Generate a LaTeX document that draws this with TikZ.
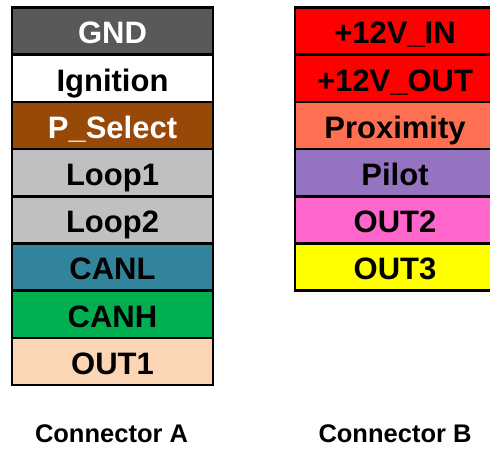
\documentclass[tikz,border=0pt]{standalone}
\usepackage{fontspec}
\setmainfont{Liberation Sans}
\definecolor{cGND}{HTML}{595959}
\definecolor{cPSel}{HTML}{984807}
\definecolor{cLoop}{HTML}{C0C0C0}
\definecolor{cCANL}{HTML}{31849B}
\definecolor{cCANH}{HTML}{00B050}
\definecolor{cOUTa}{HTML}{FCD5B5}
\definecolor{cRed}{HTML}{FF0000}
\definecolor{cProx}{HTML}{FF7053}
\definecolor{cPilot}{HTML}{9473C0}
\definecolor{cOUTb}{HTML}{FF66CC}
\definecolor{cOUTc}{HTML}{FFFF00}
\begin{document}
\begin{tikzpicture}[x=1pt,y=-1pt,
  cell/.style={draw=black,line width=2.5pt},
  lbl/.style={anchor=base,inner sep=0pt,font=\fontsize{31}{31}\selectfont\bfseries},
  conncap/.style={anchor=base,inner sep=0pt,font=\fontsize{25.5}{25.5}\selectfont\bfseries}]
\useasboundingbox (0,0) rectangle (490,449);
\clip (0,0) rectangle (490,449);
\def\rh{47.2}
% Connector A
\foreach \i/\c/\t/\tc/\nm in {0/cGND/GND/white/a1,1/white/Ignition/black/a2,2/cPSel/P\_Select/white/a3,3/cLoop/Loop1/black/a4,4/cLoop/Loop2/black/a5,5/cCANL/CANL/black/a6,6/cCANH/CANH/black/a7,7/cOUTa/OUT1/black/a8}{
  \path[cell,fill=\c] (12,7.5+\i*\rh) rectangle (213,7.5+\i*\rh+\rh);
  \node[lbl,text=\tc] (\nm) at (112.5,44+\i*\rh) {\t};
}
% Connector B
\foreach \i/\c/\t/\nm in {0/cRed/+12V\_IN/b1,1/cRed/+12V\_OUT/b2,2/cProx/Proximity/b3,3/cPilot/Pilot/b4,4/cOUTb/OUT2/b5,5/cOUTc/OUT3/b6}{
  \path[cell,fill=\c] (295,7.5+\i*\rh) rectangle (496,7.5+\i*\rh+\rh);
  \node[lbl,text=black] (\nm) at (395,44+\i*\rh) {\t};
}
\node[conncap] (capA) at (111.5,442) {Connector A};
\node[conncap] (capB) at (395,442) {Connector B};
\end{tikzpicture}
\end{document}
